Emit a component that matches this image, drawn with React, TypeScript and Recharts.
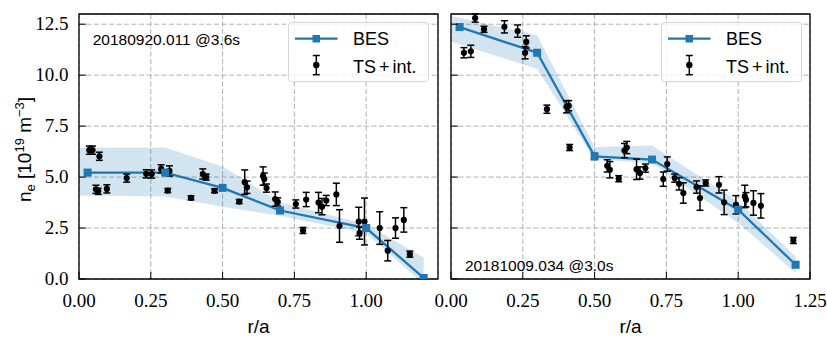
import React from 'react';
import {
  ComposedChart, Area, Line, Scatter, ErrorBar, XAxis, YAxis,
  CartesianGrid, ReferenceArea, Legend,
} from 'recharts';

const BLUE = '#1f77b4';
const SANS = '"Liberation Sans", Arial, sans-serif';
const SERIF = '"Liberation Serif", "Times New Roman", serif';

// ---- axis ticks ----
const xTicksLeft = [0, 0.25, 0.5, 0.75, 1.0];
const xTicksRight = [0, 0.25, 0.5, 0.75, 1.0, 1.25];
const xTickLabels = ['0.00', '0.25', '0.50', '0.75', '1.00', '1.25'];
const yTicks = [0, 2.5, 5, 7.5, 10, 12.5];
const yTickLabels = ['0.0', '2.5', '5.0', '7.5', '10.0', '12.5'];

// ---- BES profile ----
const besX = [0.03, 0.3, 0.5, 0.7, 1.0, 1.2];
const besLeftY = [5.22, 5.22, 4.47, 3.36, 2.5, 0.05];
const besRightY = [12.36, 11.1, 6.02, 5.86, 3.4, 0.7];

// ---- BES uncertainty band ----
const bandX = [0, 0.3, 0.5, 0.7, 1.0, 1.2];
const bandLeftLo = [4.1, 4.05, 3.55, 3.1, 2.25, -0.25];
const bandLeftHi = [6.45, 6.45, 5.52, 3.77, 2.68, 1.05];
const bandRightLo = [11.65, 10.3, 5.87, 5.68, 2.75, 0.3];
const bandRightHi = [12.9, 11.96, 6.48, 6.55, 3.8, 1.1];

// ---- TS + interferometer points (left, 20180920.011) ----
const tsLeftX = [0.036, 0.047, 0.071, 0.059, 0.067, 0.097, 0.166, 0.234, 0.253, 0.286, 0.315, 0.309, 0.39, 0.431, 0.443, 0.472, 0.558, 0.577, 0.585, 0.641, 0.645, 0.653, 0.683, 0.692, 0.755, 0.78, 0.791, 0.834, 0.846, 0.861, 0.896, 0.907, 0.974, 0.977, 0.994, 1.047, 1.075, 1.102, 1.131, 1.152];
const tsLeftY = [6.32, 6.32, 6.02, 4.4, 4.3, 4.42, 4.95, 5.16, 5.15, 5.4, 5.3, 4.34, 3.98, 5.15, 5.0, 4.33, 3.8, 4.75, 4.5, 5.05, 4.9, 4.46, 3.92, 3.78, 3.68, 2.38, 3.9, 3.75, 3.55, 3.85, 4.15, 2.6, 2.82, 2.25, 2.82, 2.5, 1.39, 2.5, 2.9, 1.22];
const tsLeftErr = [0.2, 0.2, 0.2, 0.2, 0.15, 0.2, 0.2, 0.2, 0.2, 0.2, 0.25, 0.1, 0.1, 0.25, 0.15, 0.1, 0.1, 0.6, 0.3, 0.45, 0.3, 0.2, 0.35, 0.2, 0.2, 0.15, 0.35, 0.5, 0.4, 0.25, 0.55, 0.8, 0.7, 0.3, 1.15, 0.8, 0.5, 0.5, 0.6, 0.15];

// ---- TS + interferometer points (right, 20181009.034) ----
const tsRightX = [0.084, 0.045, 0.069, 0.115, 0.186, 0.232, 0.262, 0.258, 0.334, 0.402, 0.41, 0.413, 0.499, 0.544, 0.553, 0.584, 0.604, 0.612, 0.646, 0.658, 0.677, 0.739, 0.753, 0.779, 0.794, 0.809, 0.855, 0.867, 0.887, 0.933, 0.951, 0.992, 1.023, 1.027, 1.053, 1.079, 1.192];
const tsRightY = [12.8, 11.1, 11.17, 12.25, 12.37, 12.16, 11.63, 11.1, 8.33, 8.45, 8.5, 6.45, 6.01, 5.55, 5.36, 4.92, 6.3, 6.45, 5.38, 5.2, 5.44, 4.9, 5.64, 4.95, 4.67, 4.22, 4.51, 3.97, 4.71, 4.62, 3.76, 3.64, 4.05, 3.89, 3.73, 3.59, 1.89];
const tsRightErr = [0.2, 0.25, 0.3, 0.15, 0.3, 0.3, 0.3, 0.3, 0.2, 0.3, 0.25, 0.15, 0.15, 0.3, 0.4, 0.15, 0.35, 0.3, 0.5, 0.3, 0.2, 0.35, 0.35, 0.2, 0.3, 0.5, 0.3, 0.6, 0.15, 0.4, 0.6, 0.45, 0.55, 0.35, 0.6, 0.6, 0.15];

const lineRows = (xs: number[], ys: number[]) => xs.map((x, i) => ({ x, y: ys[i] }));
const bandRows = (xs: number[], lo: number[], hi: number[]) => xs.map((x, i) => ({ x, range: [lo[i], hi[i]] }));
const tsRows = (xs: number[], ys: number[], es: number[]) => xs.map((x, i) => ({ x, y: ys[i], e: es[i] }));

const makeXTick = (ticks: number[]) => (p: any) => {
  const v = p.payload.value;
  const idx = xTicksRight.indexOf(v);
  return (
    <g>
      <line x1={p.x} x2={p.x} y1={p.y} y2={p.y - 7} stroke="#000" strokeWidth={1} />
      {ticks.indexOf(v) >= 0 && (
        <text x={p.x} y={p.y + 28} textAnchor="middle" fontFamily={SERIF} fontSize={19} fill="#000">
          {xTickLabels[idx]}
        </text>
      )}
    </g>
  );
};

const makeYTick = (showLabels: boolean) => (p: any) => {
  const idx = yTicks.indexOf(p.payload.value);
  return (
    <g>
      <line x1={p.x} x2={p.x + 7} y1={p.y} y2={p.y} stroke="#000" strokeWidth={1} />
      {showLabels && (
        <text x={p.x - 10.5} y={p.y + 6} textAnchor="end" fontFamily={SERIF} fontSize={19} fill="#000">
          {yTickLabels[idx]}
        </text>
      )}
    </g>
  );
};

const YLabel = (props: any) => {
  const vb = props.viewBox || { x: 0, y: 14, width: 79, height: 265 };
  const cx = vb.x + 31;
  const cy = vb.y + vb.height / 2 + 3;
  return (
    <text transform={`translate(${cx},${cy}) rotate(-90)`} textAnchor="middle" fontFamily={SANS} fontSize={19} fill="#000">
      <tspan>n</tspan>
      <tspan dy={4} fontSize={13}>e</tspan>
      <tspan dy={-4}>{' [10'}</tspan>
      <tspan dy={-7} fontSize={13}>19</tspan>
      <tspan dy={7}>{' m'}</tspan>
      <tspan dy={-7} fontSize={13}>−3</tspan>
      <tspan dy={7}>]</tspan>
    </text>
  );
};

const XLabel = (props: any) => {
  const vb = props.viewBox || { x: 0, y: 279, width: 359, height: 58 };
  return (
    <text x={vb.x + vb.width / 2} y={vb.y + 54} textAnchor="middle" fontFamily={SANS} fontSize={19} fill="#000">
      r/a
    </text>
  );
};

const LegendBox = () => (
  <svg width={141} height={60} style={{ display: 'block' }}>
    <rect x={0.5} y={0.5} width={140} height={59} rx={3} ry={3} fill="#fff" fillOpacity={0.8} stroke="#d5d5d5" strokeWidth={1} />
    <line x1={7} x2={49.5} y1={16.7} y2={16.7} stroke={BLUE} strokeWidth={2.3} />
    <rect x={24.5} y={13} width={7.5} height={7.5} fill={BLUE} />
    <text x={65} y={23.3} fontFamily={SANS} fontSize={18} fill="#000">BES</text>
    <line x1={28.3} x2={28.3} y1={33.5} y2={52.7} stroke="#000" strokeWidth={1.5} />
    <line x1={24.8} x2={31.8} y1={33.5} y2={33.5} stroke="#000" strokeWidth={1.5} />
    <line x1={24.8} x2={31.8} y1={52.7} y2={52.7} stroke="#000" strokeWidth={1.5} />
    <circle cx={28.3} cy={43} r={3.2} fill="#000" />
    <text x={65} y={51} fontFamily={SANS} fontSize={18} fill="#000">
      <tspan>TS</tspan>
      <tspan dx={3}>+</tspan>
      <tspan dx={3}>int.</tspan>
    </text>
  </svg>
);

const Square = (p: any) => {
  if (p.cx == null || p.cy == null) return null;
  return <rect key={`sq-${p.index}`} x={p.cx - 4} y={p.cy - 4} width={8} height={8} fill={BLUE} />;
};

const Dot = (p: any) => <circle cx={p.cx} cy={p.cy} r={3.1} fill="#000" />;

interface PanelProps {
  width: number;
  marginRight: number;
  yAxisWidth: number;
  band: any[];
  bes: any[];
  ts: any[];
  xTicks: number[];
  showYLabels: boolean;
  legendLeft: number;
}

const Panel = (pp: PanelProps) => (
  <ComposedChart
    width={pp.width}
    height={337}
    data={pp.band}
    margin={{ top: 14, right: pp.marginRight, bottom: 0, left: 0 }}
  >
    <CartesianGrid stroke="#b0b0b0" strokeWidth={1} strokeDasharray="5 2.5" />
    <XAxis
      dataKey="x"
      type="number"
      domain={[0, 1.25]}
      ticks={pp.xTicks}
      interval={0}
      allowDataOverflow
      axisLine={false}
      tickLine={false}
      tickSize={0}
      tickMargin={0}
      height={58}
      tick={makeXTick(pp.xTicks)}
      label={<XLabel />}
    />
    <YAxis
      type="number"
      domain={[0, 13]}
      ticks={yTicks}
      interval={0}
      allowDataOverflow
      axisLine={false}
      tickLine={false}
      tickSize={0}
      tickMargin={0}
      width={pp.yAxisWidth}
      tick={makeYTick(pp.showYLabels)}
      label={pp.showYLabels ? <YLabel /> : undefined}
    />
    <Area dataKey="range" type="linear" fill={BLUE} fillOpacity={0.2} stroke="none" isAnimationActive={false} />
    <Line data={pp.bes} dataKey="y" type="linear" stroke={BLUE} strokeWidth={2.3} dot={<Square />} activeDot={false} isAnimationActive={false} />
    <Scatter data={pp.ts} dataKey="y" fill="#000" shape={<Dot />} isAnimationActive={false}>
      <ErrorBar dataKey="e" direction="y" width={3.5} stroke="#000" strokeWidth={1.5} />
    </Scatter>
    <ReferenceArea x1={0} x2={1.25} y1={0} y2={13} fill="none" stroke="#000" strokeWidth={1.3} ifOverflow="visible" />
    <Legend
      layout="horizontal"
      verticalAlign="middle"
      align="center"
      wrapperStyle={{ position: 'absolute', left: pp.legendLeft, top: 22, width: 141, height: 60 }}
      content={() => <LegendBox />}
    />
  </ComposedChart>
);

export default function App() {
  return (
    <div style={{ position: 'absolute', left: 0, top: 0, width: 827, height: 337, background: '#fff' }}>
      <div style={{ position: 'absolute', left: 0, top: 0 }}>
        <Panel
          width={445}
          marginRight={7}
          yAxisWidth={79}
          band={bandRows(bandX, bandLeftLo, bandLeftHi)}
          bes={lineRows(besX, besLeftY)}
          ts={tsRows(tsLeftX, tsLeftY, tsLeftErr)}
          xTicks={xTicksLeft}
          showYLabels={true}
          legendLeft={288}
        />
      </div>
      <div style={{ position: 'absolute', left: 420, top: 0 }}>
        <Panel
          width={407}
          marginRight={17}
          yAxisWidth={31}
          band={bandRows(bandX, bandRightLo, bandRightHi)}
          bes={lineRows(besX, besRightY)}
          ts={tsRows(tsRightX, tsRightY, tsRightErr)}
          xTicks={xTicksRight}
          showYLabels={false}
          legendLeft={240.7}
        />
      </div>
      <svg width={827} height={337} style={{ position: 'absolute', left: 0, top: 0, pointerEvents: 'none' }}>
        <text x={92.7} y={45} fontFamily={SANS} fontSize={15.5} fill="#000">20180920.011 @3.6s</text>
        <text x={465} y={270.5} fontFamily={SANS} fontSize={15.5} fill="#000">20181009.034 @3.0s</text>
      </svg>
    </div>
  );
}
